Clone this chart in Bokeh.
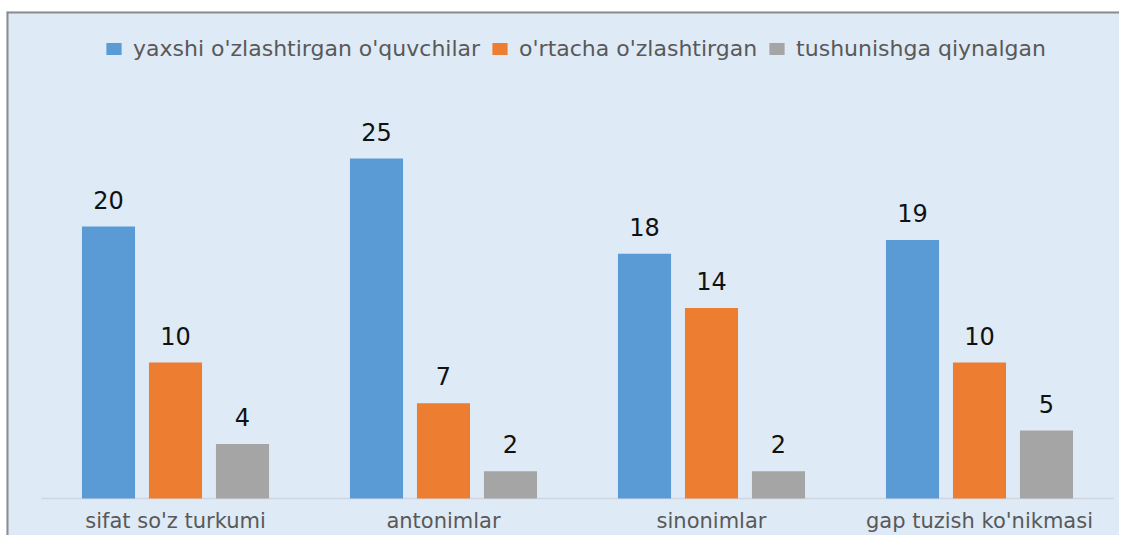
from bokeh.plotting import figure
from bokeh.models import ColumnDataSource, Range1d, Legend, LegendItem, Span
from bokeh.core.properties import value
from bokeh.embed import file_html
from bokeh.resources import INLINE

categories = ["sifat so'z turkumi", "antonimlar", "sinonimlar", "gap tuzish ko'nikmasi"]
series_names = ["yaxshi o'zlashtirgan o'quvchilar", "o'rtacha o'zlashtirgan", "tushunishga qiynalgan"]
good = [20, 25, 18, 19]
average = [10, 7, 14, 10]
struggling = [4, 2, 2, 5]
colors = ["#5b9bd5", "#ed7d31", "#a5a5a5"]

BG = "#deeaf6"
FONT = "DejaVu Sans"
X0, X1 = -0.1306, 4.0224
Y0, Y1 = -2.72, 35.81

p = figure(width=1119, height=535, output_backend="svg", toolbar_location=None, tools="",
           x_range=Range1d(X0, X1), y_range=Range1d(Y0, Y1),
           min_border_left=6, min_border_right=0, min_border_top=11, min_border_bottom=0)
p.background_fill_color = BG
p.border_fill_color = "white"
p.outline_line_color = None
p.axis.visible = False
p.grid.visible = False

# chart border (top and left, the rest runs off the picture)
p.add_layout(Span(location=X0, dimension="height", line_color="#8c8c8c", line_width=4))
p.add_layout(Span(location=Y1, dimension="width", line_color="#8c8c8c", line_width=4))

# baseline
p.segment(x0=[0], y0=[0], x1=[len(categories)], y1=[0], line_color="#cfd6de", line_width=1.5)

offsets = [-0.25, 0.0, 0.25]
items = []
for vals, name, col, off in zip([good, average, struggling], series_names, colors, offsets):
    src = ColumnDataSource(dict(
        x=[i + 0.5 + off for i in range(len(categories))],
        top=vals,
        lab=[str(v) for v in vals],
    ))
    r = p.vbar(x="x", top="top", bottom=0, width=0.198, source=src,
               fill_color=col, line_color=None)
    p.text(x="x", y="top", text="lab", source=src, y_offset=-27,
           text_align="center", text_baseline="middle",
           text_font=value(FONT), text_font_size="24px", text_color="#111111")
    items.append(LegendItem(label=name, renderers=[r]))

# category labels
csrc = ColumnDataSource(dict(x=[i + 0.5 for i in range(len(categories))],
                             y=[0] * len(categories), lab=categories))
p.text(x="x", y="y", text="lab", source=csrc, y_offset=22,
       text_align="center", text_baseline="middle",
       text_font=value(FONT), text_font_size="21px", text_color="#595959")

legend = Legend(items=items, orientation="horizontal", location=(98, 474),
                background_fill_alpha=0, border_line_color=None,
                glyph_width=19, glyph_height=15, label_standoff=10, spacing=10,
                padding=0, margin=0,
                label_text_font=FONT, label_text_font_size="22px", label_text_color="#595959")
p.add_layout(legend, "center")

open("out.html", "w").write(file_html(p, INLINE))
